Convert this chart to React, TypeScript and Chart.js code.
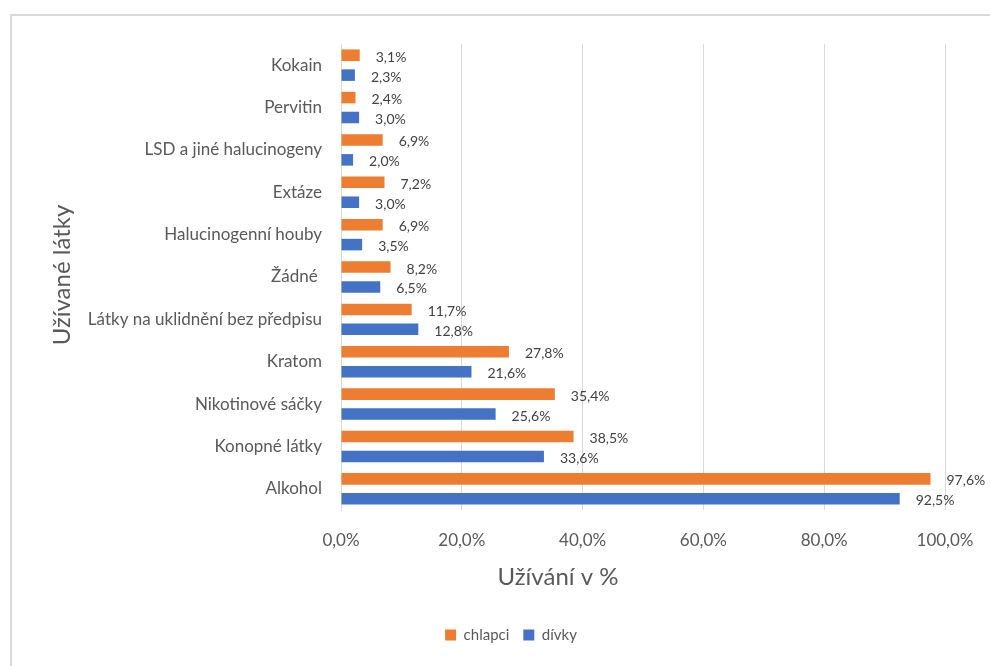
import React, { useEffect, useRef } from "react";
import { Chart, registerables } from "chart.js";

Chart.register(...registerables);

const categories = [
  "Kokain",
  "Pervitin",
  "LSD a jiné halucinogeny",
  "Extáze",
  "Halucinogenní houby",
  "Žádné ",
  "Látky na uklidnění bez předpisu",
  "Kratom",
  "Nikotinové sáčky",
  "Konopné látky",
  "Alkohol",
];
const chlapci = [3.1, 2.4, 6.9, 7.2, 6.9, 8.2, 11.7, 27.8, 35.4, 38.5, 97.6];
const divky = [2.3, 3.0, 2.0, 3.0, 3.5, 6.5, 12.8, 21.6, 25.6, 33.6, 92.5];
const seriesNames = ["chlapci", "dívky"];
const xTitle = "Užívání v %";
const yTitle = "Užívané látky";

const FONT = "Lato, 'Noto Sans', sans-serif";
const fmt = (v: number) => v.toFixed(1).replace(".", ",") + "%";

const labelPlugin = {
  id: "barLabels",
  afterDatasetsDraw(chart: any) {
    const ctx = chart.ctx;
    ctx.save();
    ctx.font = `14px ${FONT}`;
    ctx.fillStyle = "#404040";
    ctx.textAlign = "left";
    ctx.textBaseline = "middle";
    chart.data.datasets.forEach((ds: any, di: number) => {
      const meta = chart.getDatasetMeta(di);
      meta.data.forEach((bar: any, i: number) => {
        ctx.fillText(fmt(ds.data[i]), bar.x + 16, bar.y + 2);
      });
    });
    ctx.restore();
  },
};

const titlePlugin = {
  id: "axisTitles",
  afterDraw(chart: any) {
    const ctx = chart.ctx;
    const a = chart.chartArea;
    ctx.save();
    ctx.fillStyle = "#595959";
    ctx.font = `24px ${FONT}`;
    ctx.textAlign = "center";
    ctx.textBaseline = "middle";
    ctx.fillText(xTitle, 558, 577);
    ctx.translate(62, (a.top + a.bottom) / 2 - 2);
    ctx.rotate(-Math.PI / 2);
    ctx.fillText(yTitle, 0, 0);
    ctx.restore();
  },
};

export default function App() {
  const ref = useRef<HTMLCanvasElement | null>(null);
  useEffect(() => {
    if (!ref.current) return;
    const chart = new Chart(ref.current, {
      type: "bar",
      data: {
        labels: categories,
        datasets: [
          {
            label: seriesNames[0],
            data: chlapci,
            backgroundColor: "#ED7D31",
            categoryPercentage: 0.94,
            barPercentage: 0.58,
          },
          {
            label: seriesNames[1],
            data: divky,
            backgroundColor: "#4472C4",
            categoryPercentage: 0.94,
            barPercentage: 0.58,
          },
        ],
      },
      options: {
        indexAxis: "y",
        animation: false,
        responsive: false,
        layout: { padding: { left: 77, right: 45, top: 44, bottom: 13.5 } },
        scales: {
          x: {
            min: 0,
            max: 100,
            ticks: {
              stepSize: 20,
              callback: (v: any) => fmt(Number(v)),
              color: "#595959",
              font: { family: FONT, size: 17 },
              padding: 20,
            },
            grid: { color: "#d9d9d9", drawTicks: false },
            border: { display: false },
            afterFit: (s: any) => {
              s.height = 103.5;
              s.paddingLeft = 0;
              s.paddingRight = 0;
            },
          },
          y: {
            ticks: {
              color: "#595959",
              font: { family: FONT, size: 17 },
              padding: 19,
            },
            grid: { display: false, drawTicks: false },
            border: { display: true, color: "#d9d9d9" },
            afterFit: (s: any) => {
              s.width = 264;
              s.paddingTop = 0;
              s.paddingBottom = 0;
            },
          },
        },
        plugins: {
          legend: {
            position: "bottom",
            labels: {
              boxWidth: 11,
              boxHeight: 11,
              padding: 14,
              color: "#595959",
              font: { family: FONT, size: 15 },
            },
          },
          tooltip: { enabled: false },
        },
      },
      plugins: [labelPlugin, titlePlugin],
    });
    return () => chart.destroy();
  }, []);
  return (
    <div style={{ position: "fixed", left: 0, top: 0, width: 990, height: 666, background: "#fff", overflow: "hidden" }}>
      <div
        style={{
          position: "absolute",
          left: 10,
          top: 14,
          width: 1100,
          height: 800,
          border: "2px solid #d9d9d9",
        }}
      />
      <canvas ref={ref} width={990} height={666} style={{ position: "absolute", left: 0, top: 0 }} />
    </div>
  );
}
